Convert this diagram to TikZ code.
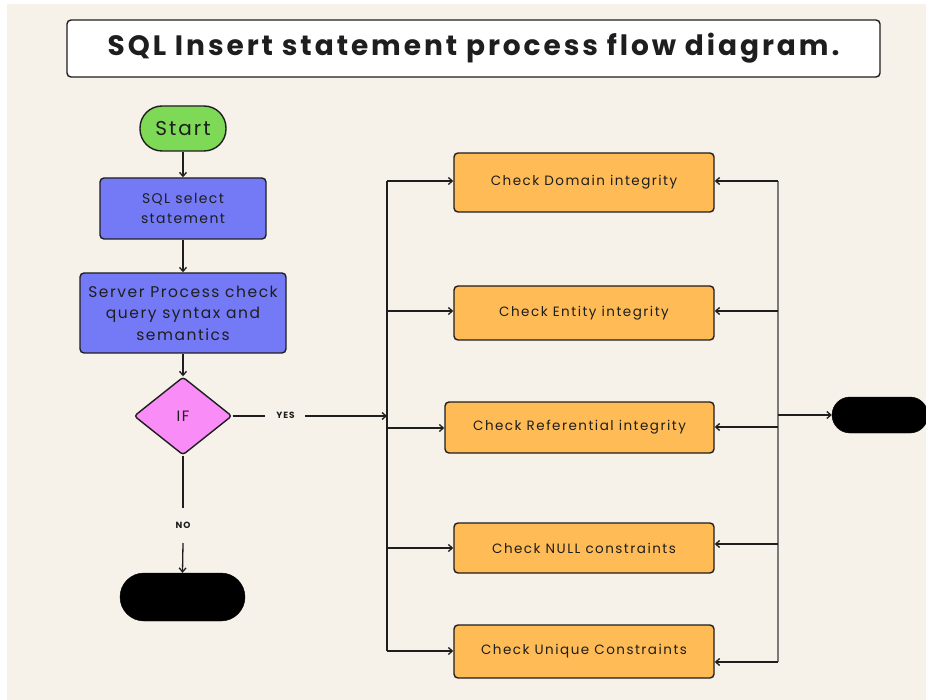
\documentclass[tikz,border=0pt]{standalone}
\usepackage{fontspec}
\setmainfont{Poppins}
\newfontfamily\spaced[LetterSpace=10]{Poppins}
\newfontfamily\checkfont[LetterSpace=11]{Poppins}
\newfontfamily\headfont[LetterSpace=10.5]{Poppins}
\usetikzlibrary{arrows.meta,shapes.geometric}

\definecolor{paper}{HTML}{F6F2EA}
\definecolor{ink}{HTML}{1E1E1E}
\definecolor{startgreen}{HTML}{7ED957}
\definecolor{procblue}{HTML}{747AF5}
\definecolor{ifpink}{HTML}{F98CF7}
\definecolor{checkorange}{HTML}{FFBB55}
\definecolor{busgray}{HTML}{7A7A7A}

\tikzset{
  every node/.style={text=ink},
  outline/.style={draw=ink, line width=1.4pt},
  titlebox/.style={outline, fill=white, rounded corners=4pt, minimum width=813pt, minimum height=57pt,
                   font=\headfont\fontsize{28}{30}\selectfont\bfseries},
  terminal/.style={outline, rounded corners=22pt, minimum width=86pt, minimum height=45pt,
                   font=\spaced\fontsize{20}{22}\selectfont},
  blackend/.style={draw=black, fill=black, rounded corners=24pt, minimum width=125pt, minimum height=48pt},
  procbox/.style={outline, fill=procblue, rounded corners=4pt, align=center, inner sep=2pt},
  decision/.style={diamond, outline, fill=ifpink, rounded corners=3pt, minimum width=98pt,
                   minimum height=78pt, inner sep=0pt, font=\spaced\fontsize{15}{16}\selectfont},
  checkbox/.style={outline, fill=checkorange, rounded corners=4pt, font=\checkfont\fontsize{13.5}{15}\selectfont},
  tag/.style={font=\spaced\fontsize{9}{10}\selectfont\bfseries, inner sep=1pt},
  flow/.style={draw=ink, line width=1.3pt},
  arr/.style={flow, -{Straight Barb[length=4pt,width=7pt,line width=1.3pt]}},
  bus/.style={line width=1.4pt},
}

\begin{document}
\begin{tikzpicture}[x=1pt,y=-1pt]
\useasboundingbox (0,0) rectangle (926,700);
\fill[white] (0,0) rectangle (926,700);
\fill[paper] (7,4) rectangle (926,700);

% heading
\node[titlebox] (title) at (473.5,48.5) {SQL Insert statement process flow diagram.};

% main column
\node[terminal, fill=startgreen] (start) at (183,128.5) {Start};
\node[procbox, minimum width=166pt, minimum height=61pt, font=\spaced\fontsize{14}{19.5}\selectfont]
  (sel) at (183,208.5) {SQL select\\statement};
\node[procbox, minimum width=206pt, minimum height=80pt, font=\spaced\fontsize{15.5}{21.5}\selectfont]
  (srv) at (183,313) {Server Process check\\query syntax and\\semantics};
\node[decision] (ifd) at (183,416) {IF};
\node[blackend] (noend) at (182.5,597) {};

\node[tag] (yes) at (285.5,415) {YES};
\node[tag] (no) at (183,525.5) {NO};

\draw[arr] (start) -- (sel);
\draw[arr] (sel) -- (srv);
\draw[arr] (srv) -- (ifd);

% integrity checks
\node[checkbox, minimum width=260pt, minimum height=59pt] (c1) at (584,182.5) {Check Domain integrity};
\node[checkbox, minimum width=260pt, minimum height=54pt] (c2) at (584,313) {Check Entity integrity};
\node[checkbox, minimum width=269pt, minimum height=51pt] (c3) at (579.5,427.5) {Check Referential integrity};
\node[checkbox, minimum width=260pt, minimum height=50pt] (c4) at (584,548) {Check NULL constraints};
\node[checkbox, minimum width=260pt, minimum height=53pt] (c5) at (584,651.5) {Check Unique Constraints};

\node[draw=black, fill=black, rounded corners=18pt, minimum width=96pt, minimum height=36pt] (okend) at (880,415) {};

% left distribution bus
\coordinate (lb1) at (387,181);
\coordinate (lb2) at (387,311);
\coordinate (lbin) at (387,416);
\coordinate (lb3) at (387,428);
\coordinate (lb4) at (387,548);
\coordinate (lb5) at (387,651);
\draw[bus, ink] (lb1) -- (lb5);

% right collecting bus
\coordinate (rb1) at (778,181);
\coordinate (rb2) at (778,311);
\coordinate (rbout) at (778,415);
\coordinate (rb3) at (778,427);
\coordinate (rb4) at (778,544);
\coordinate (rb5) at (778,662);
\draw[bus, busgray] (rb1) -- (rb5);

% decision branches
\coordinate (yesgap) at (305,416);
\coordinate (nostop) at (183,508);
\coordinate (nogo) at (183,543);
\draw[flow] (ifd.east) -- (265,416);
\draw[arr] (yesgap) -- (lbin);
\draw[flow] (ifd.south) -- (nostop);
\draw[arr] (nogo) -- (noend.north);

% fan-out to the checks
\draw[arr] (lb1) -- (lb1 -| c1.west);
\draw[arr] (lb2) -- (lb2 -| c2.west);
\draw[arr] (lb3) -- (lb3 -| c3.west);
\draw[arr] (lb4) -- (lb4 -| c4.west);
\draw[arr] (lb5) -- (lb5 -| c5.west);

% results back from the checks
\draw[arr] (rb1) -- (rb1 -| c1.east);
\draw[arr] (rb2) -- (rb2 -| c2.east);
\draw[arr] (rb3) -- (rb3 -| c3.east);
\draw[arr] (rb4) -- (rb4 -| c4.east);
\draw[arr] (rb5) -- (rb5 -| c5.east);
\draw[arr] (rbout) -- (okend.west);
\end{tikzpicture}
\end{document}
